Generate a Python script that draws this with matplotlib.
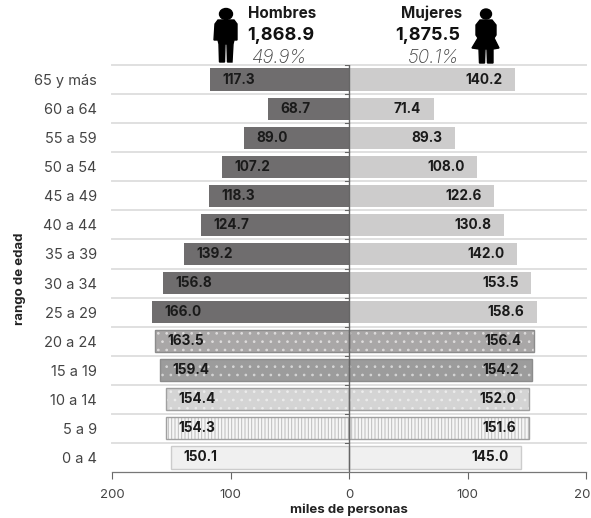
import matplotlib
matplotlib.use("Agg")
import matplotlib.pyplot as plt
from matplotlib.patches import Ellipse, Polygon

plt.rcParams['font.family'] = ['Inter', 'DejaVu Sans']
plt.rcParams['hatch.linewidth'] = 0.7

# datos, de abajo hacia arriba
edades = ['0 a 4', '5 a 9', '10 a 14', '15 a 19', '20 a 24', '25 a 29', '30 a 34',
          '35 a 39', '40 a 44', '45 a 49', '50 a 54', '55 a 59', '60 a 64', '65 y más']
hombres = [150.1, 154.3, 154.4, 159.4, 163.5, 166.0, 156.8,
           139.2, 124.7, 118.3, 107.2, 89.0, 68.7, 117.3]
mujeres = [145.0, 151.6, 152.0, 154.2, 156.4, 158.6, 153.5,
           142.0, 130.8, 122.6, 108.0, 89.3, 71.4, 140.2]
ticks_x = [-200, -100, 0, 100, 200]
ticks_x_txt = ['200', '100', '0', '100', '200']

# colores por grupo de edad
color_h = ['#f0f0f0', '#f6f6f6', '#d4d4d4', '#9c9c9c', '#a9a7a7'] + ['#6f6d6e'] * 9
color_m = ['#f0f0f0', '#f6f6f6', '#d4d4d4', '#9c9c9c', '#a9a7a7'] + ['#cdcccc'] * 9
trama = ['', '|||||', '..', '..', '..'] + [''] * 9
color_trama = ['#f0f0f0', '#bcbcbc', '#ececec', '#d6d6d6', '#dedcdc'] + ['#6f6d6e'] * 9
borde = ['#cccccc', '#a0a0a0', '#a0a0a0', '#8c8c8c', '#8c8c8c'] + ['none'] * 9

fig = plt.figure(figsize=(5.91, 5.18), dpi=100)
ax = fig.add_axes([112 / 591, 1 - 472 / 518, 474 / 591, 407 / 518])
pos = list(range(len(edades)))

# barras
for i in pos:
    for valor, col in ((-hombres[i], color_h[i]), (mujeres[i], color_m[i])):
        ax.barh(i, valor, height=0.76, color=col, edgecolor=color_trama[i] if trama[i] else col,
                hatch=trama[i], linewidth=0, zorder=2)
        if borde[i] != 'none':
            ax.barh(i, valor, height=0.76, fill=False, edgecolor=borde[i], linewidth=1.0, zorder=3)

# etiquetas de valores
for i in pos:
    ax.text(-hombres[i] + 10.5, i, f'{hombres[i]:.1f}', ha='left', va='center',
            fontsize=9.8, fontweight='bold', color='#1a1a1a', zorder=5)
    ax.text(mujeres[i] - 10.5, i, f'{mujeres[i]:.1f}', ha='right', va='center',
            fontsize=9.8, fontweight='bold', color='#1a1a1a', zorder=5)

# lineas entre grupos
for i in pos[1:] + [len(edades)]:
    ax.plot([-200, 200], [i - 0.5, i - 0.5], color='#e0e0e0', linewidth=1.4, zorder=1, clip_on=False)
    ax.plot([-3.5, 0], [i - 0.5, i - 0.5], color='#666666', linewidth=0.8, zorder=4)
ax.axvline(0, color='#666666', linewidth=1.0, zorder=4)

ax.set_xlim(-200, 200)
ax.set_ylim(-0.5, 13.5)
ax.set_xticks(ticks_x)
ax.set_xticklabels(ticks_x_txt, fontsize=9.5, color='#444444')
ax.tick_params(axis='x', length=5, width=0.8, color='#666666', pad=7)
ax.set_yticks(pos)
ax.set_yticklabels(edades, fontsize=10.5, color='#444444')
ax.tick_params(axis='y', length=0, pad=11)
for lado in ['top', 'left', 'right']:
    ax.spines[lado].set_visible(False)
ax.spines['bottom'].set_color('#777777')
ax.spines['bottom'].set_linewidth(0.9)

# capa en pixeles para encabezado e iconos
capa = fig.add_axes([0, 0, 1, 1], zorder=10)
capa.set_xlim(0, 591)
capa.set_ylim(518, 0)
capa.axis('off')

capa.text(282, 13, 'Hombres', ha='center', va='center', fontsize=11, fontweight='bold', color='#1a1a1a')
capa.text(281, 35, '1,868.9', ha='center', va='center', fontsize=13, fontweight='bold', color='#111111')
capa.text(279, 58, '49.9%', ha='center', va='center', fontsize=13.5, style='italic', fontweight='light', color='#444444')
capa.text(432, 13, 'Mujeres', ha='center', va='center', fontsize=11, fontweight='bold', color='#1a1a1a')
capa.text(428, 35, '1,875.5', ha='center', va='center', fontsize=13, fontweight='bold', color='#111111')
capa.text(433, 58, '50.1%', ha='center', va='center', fontsize=13.5, style='italic', fontweight='light', color='#444444')

capa.text(349, 510, 'miles de personas', ha='center', va='center', fontsize=9.5, fontweight='bold', color='#222222')
capa.text(20, 279, 'rango de edad', ha='center', va='center', rotation=90, fontsize=9.5, fontweight='bold', color='#222222')

# icono hombre
capa.add_patch(Ellipse((226, 14), 13, 11, color='black'))
capa.add_patch(Polygon([(218, 20), (234, 20), (237, 24), (237, 40), (234, 40), (233, 44), (232, 62),
                        (227.5, 62), (227, 44), (225, 44), (224.5, 62), (219.5, 62), (219, 44),
                        (218, 40), (214, 40), (215, 24)], color='black'))
# icono mujer
capa.add_patch(Ellipse((486, 14), 11, 10, color='black'))
capa.add_patch(Polygon([(480, 20), (492, 20), (496, 25), (496, 35), (494, 38), (499, 48), (493, 49),
                        (493, 63), (487.5, 63), (487, 49), (485, 49), (484.5, 63), (479.5, 63),
                        (479, 49), (472, 48), (478, 38), (476, 35), (476, 25)], color='black'))

fig.savefig('out.png', dpi=100)
